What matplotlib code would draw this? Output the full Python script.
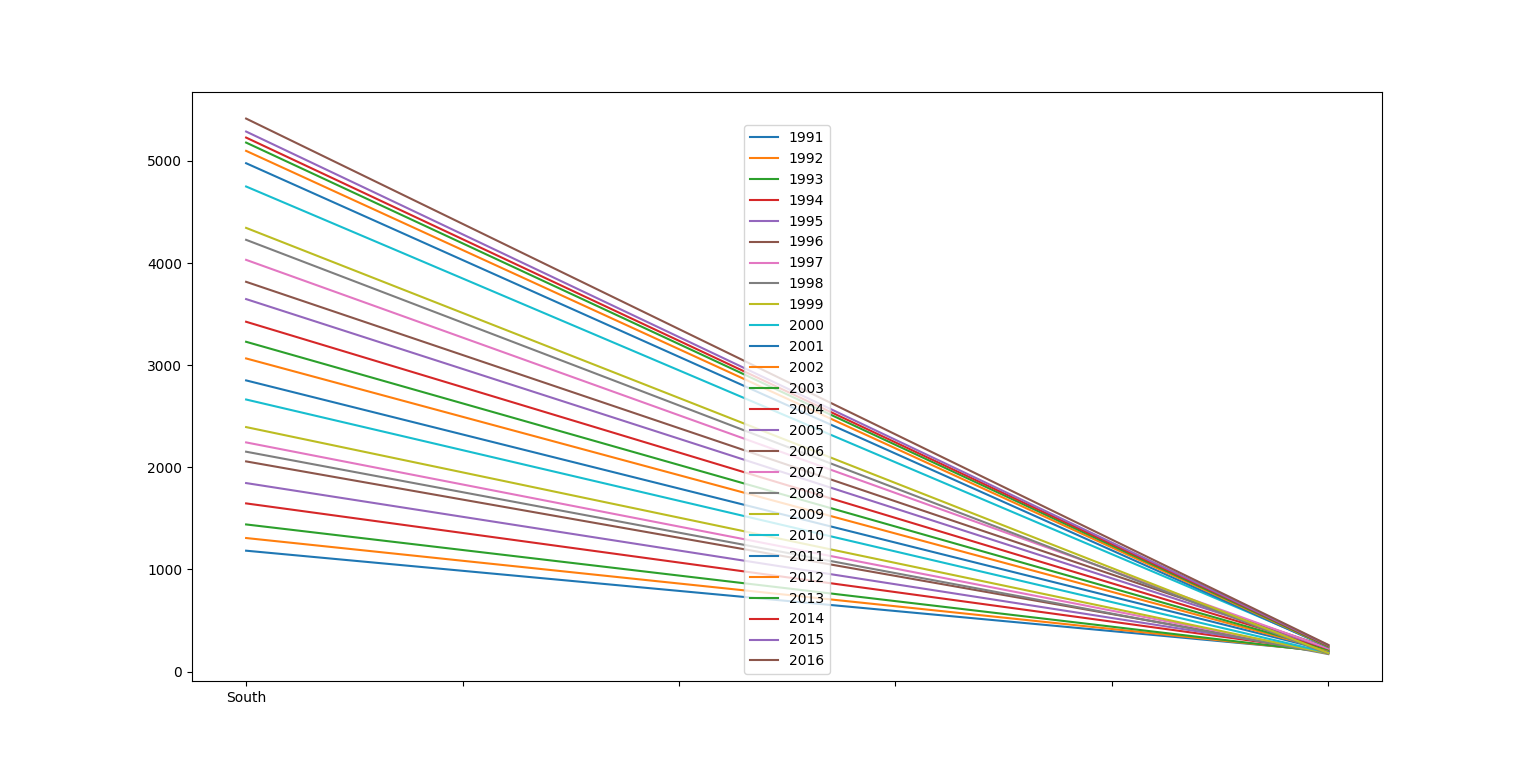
import numpy as np
import pandas as pd
import matplotlib
matplotlib.use("Agg")
import matplotlib.pyplot as plt

years = list(range(1991, 2017))
regions = ["South", "Other"]

south = [1184, 1308, 1441, 1647, 1846, 2058, 2244, 2153, 2394, 2664,
         2851, 3066, 3229, 3425, 3647, 3816, 4031, 4227, 4344, 4749,
         4977, 5098, 5179, 5228, 5287, 5414]
other = [200, 195, 190, 200, 195, 190, 185, 172, 178, 185,
         205, 210, 215, 225, 230, 235, 228, 175, 182, 250,
         240, 245, 248, 255, 258, 262]

tick_labels = ["South", "", "", "", "", ""]


def main():
    df = pd.DataFrame({y: [s, o] for y, s, o in zip(years, south, other)}, index=regions)

    fig, ax = plt.subplots(figsize=(15.36, 7.65), dpi=100)
    x = np.arange(len(regions))
    for y in years:
        ax.plot(x, df[y].values, label=str(y))

    ax.set_xticks(np.linspace(0, 1, 6))
    ax.set_xticklabels(tick_labels)
    ax.legend(loc="lower center")

    fig.savefig("out.png", dpi=100)


if __name__ == '__main__':
    main()
